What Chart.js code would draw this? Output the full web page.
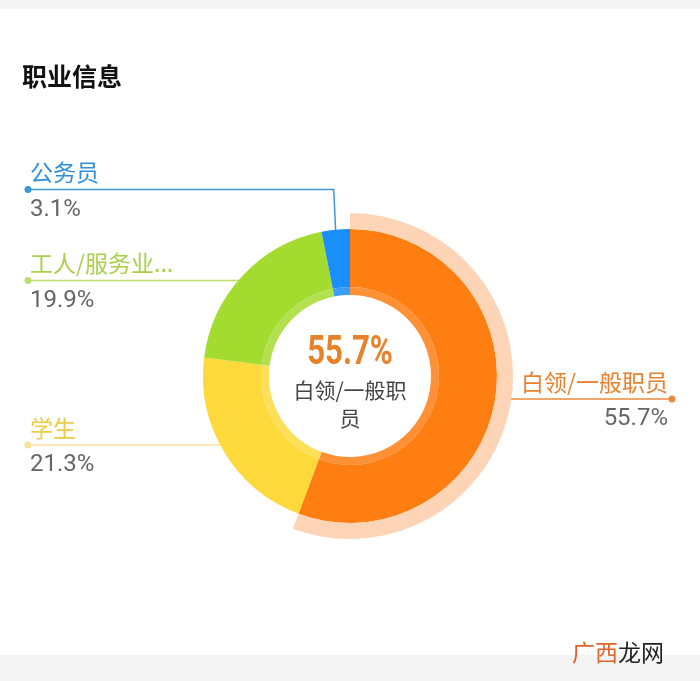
<!DOCTYPE html>
<html><head><meta charset="utf-8">
<script src="https://cdn.jsdelivr.net/npm/chart.js@4.4.1/dist/chart.umd.min.js"></script>
<style>
html,body{margin:0;padding:0;background:#fff}
#wrap{position:relative;width:700px;height:681px}
#topbar{position:absolute;left:0;top:0;width:700px;height:9px;background:#f5f5f5}
#botbar{position:absolute;left:0;top:655px;width:700px;height:26px;background:#f4f4f4}
canvas{position:absolute;left:0;top:0}
</style>
</head><body>
<div id="wrap"><div id="topbar"></div><div id="botbar"></div><canvas id="c"></canvas></div>
<script>
// ---- data ----
const chartTitle = '职业信息';
const categories = ['白领/一般职员', '学生', '工人/服务业...', '公务员'];
const shares = [55.7, 21.3, 19.9, 3.1];
const percentLabels = ['55.7%', '21.3%', '19.9%', '3.1%'];
const highlightIndex = 0;
const watermark = ['广西', '龙网'];

// ---- styles ----
const sliceColors = ['#FF7E12', '#FDD93C', '#A3DC2E', '#1A8EFA'];
const bandColors  = ['#FE9035', '#FEDF5A', '#B3E04E', '#3C9DFB'];
const labelColors = ['#E8822E', '#EDCB45', '#A9D04A', '#2F8FD8'];
const lineColors  = ['#E8893C', '#F6E395', '#BCDD6A', '#3D96DA'];
const haloColor = '#FDD4B6';
// dot y positions for each label (layout)
const labelDotY = [399, 445, 280.5, 189.5];

const labelPlugin = {
  id: 'labels',
  beforeDatasetsDraw(chart) {
    const ctx = chart.ctx;
    const meta = chart.getDatasetMeta(1);
    meta.data.forEach((arc, i) => {
      const p = arc.getProps(['x','y','startAngle','endAngle','outerRadius'], true);
      const mid = (p.startAngle + p.endAngle) / 2;
      const right = Math.cos(mid) >= 0;
      const dotX = right ? 672 : 28;
      const dy = labelDotY[i];
      ctx.save();
      ctx.strokeStyle = lineColors[i];
      ctx.lineWidth = 1.5;
      ctx.beginPath();
      ctx.moveTo(dotX, dy);
      const off = dy - p.y;
      if (Math.abs(off) < p.outerRadius) {
        const dx = Math.sqrt(p.outerRadius * p.outerRadius - off * off);
        ctx.lineTo(right ? p.x + dx - 2 : p.x - dx + 2, dy);
      } else {
        const ax = p.x + Math.cos(mid) * p.outerRadius;
        const ay = p.y + Math.sin(mid) * p.outerRadius;
        ctx.lineTo(ax - 2, dy);
        ctx.lineTo(ax, ay + 2);
      }
      ctx.stroke();
      ctx.restore();
    });
  },
  afterDatasetsDraw(chart) {
    const ctx = chart.ctx;
    const meta = chart.getDatasetMeta(1);
    meta.data.forEach((arc, i) => {
      const p = arc.getProps(['x','y','startAngle','endAngle'], true);
      const mid = (p.startAngle + p.endAngle) / 2;
      const right = Math.cos(mid) >= 0;
      const dotX = right ? 672 : 28;
      const dy = labelDotY[i];
      ctx.save();
      ctx.fillStyle = lineColors[i];
      ctx.beginPath(); ctx.arc(dotX, dy, 3.5, 0, Math.PI * 2); ctx.fill();
      ctx.textBaseline = 'middle';
      ctx.textAlign = right ? 'right' : 'left';
      const tx = right ? 668 : 30;
      ctx.fillStyle = labelColors[i];
      ctx.font = '23px "Noto Sans CJK SC", sans-serif';
      ctx.fillText(categories[i], tx, dy - 17);
      ctx.fillStyle = '#666';
      ctx.font = '24px Roboto, sans-serif';
      ctx.fillText(percentLabels[i], tx, dy + 20);
      ctx.restore();
    });
    // center text
    const a = meta.data[highlightIndex];
    const cx = a.x, cy = a.y;
    ctx.save();
    ctx.textAlign = 'center';
    ctx.textBaseline = 'middle';
    ctx.fillStyle = '#E8822A';
    ctx.font = 'bold 41px Roboto, sans-serif';
    ctx.translate(cx, cy - 22);
    ctx.scale(0.76, 1);
    ctx.fillText(percentLabels[highlightIndex], 0, 0);
    ctx.restore();
    ctx.save();
    ctx.textAlign = 'center';
    ctx.textBaseline = 'middle';
    ctx.fillStyle = '#444';
    ctx.font = '21px "Noto Sans CJK SC", sans-serif';
    const name = categories[highlightIndex];
    ctx.fillText(name.slice(0, 6), cx, cy + 14);
    ctx.fillText(name.slice(6), cx, cy + 42);
    ctx.restore();
  },
  afterDraw(chart) {
    const ctx = chart.ctx;
    ctx.save();
    ctx.textBaseline = 'middle';
    ctx.textAlign = 'left';
    ctx.fillStyle = '#111';
    ctx.font = 'bold 25px "Noto Sans CJK SC", sans-serif';
    ctx.fillText(chartTitle, 22, 76);
    ctx.font = '23px "Noto Sans CJK SC", sans-serif';
    ctx.fillStyle = '#E0632A';
    ctx.fillText(watermark[0], 572, 652);
    const w = ctx.measureText(watermark[0]).width;
    ctx.fillStyle = '#222';
    ctx.fillText(watermark[1], 572 + w, 652);
    ctx.restore();
  }
};

new Chart(document.getElementById('c'), {
  type: 'doughnut',
  data: {
    labels: categories,
    datasets: [
      { data: shares, weight: 16, borderWidth: 0,
        backgroundColor: shares.map((_, i) => i === highlightIndex ? haloColor : 'rgba(0,0,0,0)') },
      { data: shares, weight: 58, borderWidth: 0, backgroundColor: sliceColors },
      { data: shares, weight: 8, borderWidth: 0, backgroundColor: bandColors }
    ]
  },
  options: {
    responsive: true,
    maintainAspectRatio: false,
    animation: false,
    events: [],
    radius: 163,
    cutout: '49.7%',
    layout: { padding: { top: 71, bottom: 0, left: 0, right: 0 } },
    plugins: { legend: { display: false }, tooltip: { enabled: false }, title: { display: false } }
  },
  plugins: [labelPlugin]
});
</script>
</body></html>
